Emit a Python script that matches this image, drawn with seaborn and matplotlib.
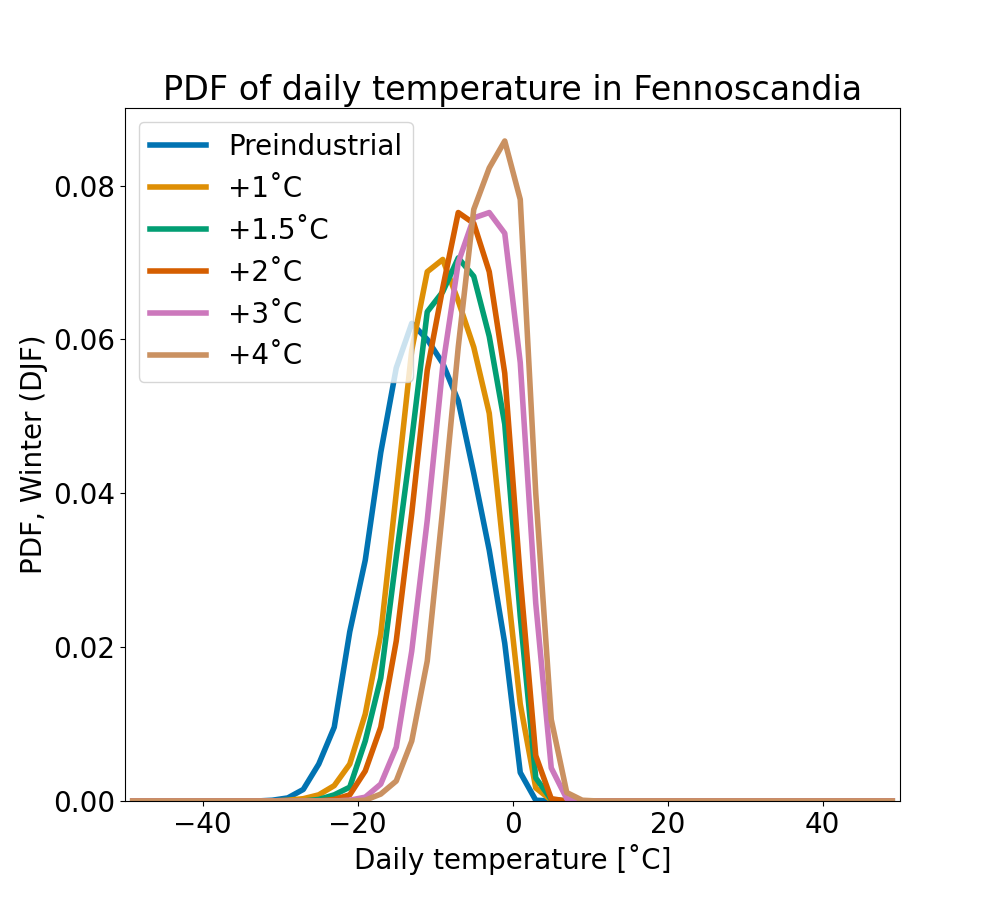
import numpy as np
import matplotlib
matplotlib.use('Agg')
import matplotlib.pyplot as plt
import seaborn as sns

# bin centres, 2 degree bins
temps = np.arange(-49, 50, 2)

scenarios = ['Preindustrial', '+1˚C', '+1.5˚C', '+2˚C', '+3˚C', '+4˚C']

pdf_pre = [0, 0, 0, 0, 0, 0, 0, 0, 0,
           0.0001, 0.0004, 0.0015, 0.0048, 0.0096, 0.022, 0.0313, 0.0453, 0.0563, 0.0621,
           0.060, 0.0569, 0.052, 0.0426, 0.0326, 0.0205, 0.0037, 0.0001, 0, 0, 0,
           0, 0, 0, 0, 0, 0, 0, 0, 0, 0, 0, 0, 0, 0, 0, 0, 0, 0, 0, 0]
pdf_1 = [0, 0, 0, 0, 0, 0, 0, 0, 0,
         0, 0.0001, 0.0003, 0.0008, 0.002, 0.0048, 0.0113, 0.0217, 0.040, 0.0586,
         0.0688, 0.0704, 0.065, 0.059, 0.0504, 0.031, 0.0126, 0.0017, 0.0001, 0, 0,
         0, 0, 0, 0, 0, 0, 0, 0, 0, 0, 0, 0, 0, 0, 0, 0, 0, 0, 0, 0]
pdf_15 = [0, 0, 0, 0, 0, 0, 0, 0, 0,
          0, 0, 0, 0.0002, 0.0008, 0.0018, 0.0078, 0.016, 0.0317, 0.047,
          0.0636, 0.0662, 0.0706, 0.0682, 0.0604, 0.049, 0.024, 0.003, 0.0002, 0, 0,
          0, 0, 0, 0, 0, 0, 0, 0, 0, 0, 0, 0, 0, 0, 0, 0, 0, 0, 0, 0]
pdf_2 = [0, 0, 0, 0, 0, 0, 0, 0, 0,
         0, 0, 0, 0, 0.0002, 0.0008, 0.0039, 0.0096, 0.0208, 0.0374,
         0.056, 0.0667, 0.0765, 0.0751, 0.0688, 0.0556, 0.029, 0.0059, 0.0003, 0, 0,
         0, 0, 0, 0, 0, 0, 0, 0, 0, 0, 0, 0, 0, 0, 0, 0, 0, 0, 0, 0]
pdf_3 = [0, 0, 0, 0, 0, 0, 0, 0, 0,
         0, 0, 0, 0, 0, 0.0001, 0.0005, 0.0022, 0.007, 0.0195,
         0.0365, 0.0565, 0.070, 0.0758, 0.0765, 0.0738, 0.057, 0.0257, 0.0043, 0.0003, 0,
         0, 0, 0, 0, 0, 0, 0, 0, 0, 0, 0, 0, 0, 0, 0, 0, 0, 0, 0, 0]
pdf_4 = [0, 0, 0, 0, 0, 0, 0, 0, 0,
         0, 0, 0, 0, 0, 0, 0.0001, 0.0009, 0.0026, 0.0078,
         0.0182, 0.038, 0.059, 0.0769, 0.0823, 0.0858, 0.0782, 0.040, 0.0106, 0.0011, 0.0001,
         0, 0, 0, 0, 0, 0, 0, 0, 0, 0, 0, 0, 0, 0, 0, 0, 0, 0, 0, 0]

series = [pdf_pre, pdf_1, pdf_15, pdf_2, pdf_3, pdf_4]
colors = sns.color_palette('colorblind', len(scenarios))

fig, ax = plt.subplots(figsize=(10, 9), dpi=100)

for name, vals, c in zip(scenarios, series, colors):
    sns.lineplot(x=temps, y=vals, color=c, label=name, linewidth=4, ax=ax)

ax.set_xlim(-50, 50)
ax.set_ylim(bottom=0)
ax.set_title('PDF of daily temperature in Fennoscandia', fontsize=24)
ax.set_xlabel('Daily temperature [˚C]', fontsize=20)
ax.set_ylabel('PDF, Winter (DJF)', fontsize=20)
ax.tick_params(labelsize=20)
ax.legend(loc='upper left', fontsize=20)

plt.savefig('out.png')
plt.close()
